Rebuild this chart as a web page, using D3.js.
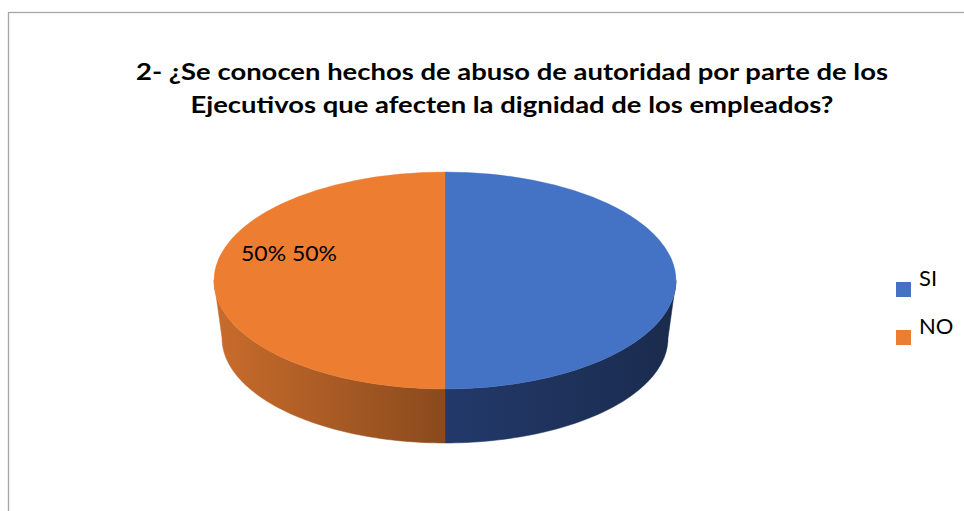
<!DOCTYPE html>
<html>
<head>
<meta charset="utf-8">
<script src="https://cdn.jsdelivr.net/npm/d3@7"></script>
<style>
  html, body { margin: 0; padding: 0; background: #fff; }
  svg { display: block; }
</style>
</head>
<body>
<svg id="chart" width="964" height="511"></svg>
<script>
const titleLines = [
  "2- ¿Se conocen hechos de abuso de autoridad por parte de los",
  "Ejecutivos que afecten la dignidad de los empleados?"
];
const categories = ["SI", "NO"];
const values = [50, 50];
const topColors = ["#4472C4", "#ED7D31"];
const sideColors = [["#22396A", "#1A2B4D"], ["#C96C2C", "#8A4A1D"]];

const svg = d3.select("#chart");
const font = "Lato, 'Open Sans', sans-serif";

// chart frame (runs off the right and bottom edges)
svg.append("rect")
  .attr("x", 8.5).attr("y", 12.5)
  .attr("width", 1000).attr("height", 600)
  .attr("fill", "none")
  .attr("stroke", "#a6a6a6")
  .attr("stroke-width", 1.3);

// title
const titleSpec = [
  { x: 512, y: 80, w: 752 },
  { x: 512, y: 113, w: 643 }
];
titleLines.forEach((line, i) => {
  svg.append("text")
    .attr("x", titleSpec[i].x)
    .attr("y", titleSpec[i].y)
    .attr("text-anchor", "middle")
    .attr("font-family", font)
    .attr("font-weight", "bold")
    .attr("font-size", 23.5)
    .attr("fill", "#000")
    .attr("textLength", titleSpec[i].w)
    .attr("lengthAdjust", "spacingAndGlyphs")
    .text(line);
});

// pie geometry: top face ellipse and the slightly smaller bottom rim
const topE = { cx: 445, cy: 280.5, rx: 231, ry: 108.5 };
const botE = { cx: 445, cy: 338, rx: 223, ry: 105 };

const pie = d3.pie().sort(null).value(d => d)(values);
const arc = d3.arc().innerRadius(0).outerRadius(1);

const defs = svg.append("defs");
sideColors.forEach((c, i) => {
  const g = defs.append("linearGradient")
    .attr("id", "side" + i)
    .attr("gradientUnits", "userSpaceOnUse")
    .attr("x1", i === 0 ? topE.cx : topE.cx - topE.rx)
    .attr("x2", i === 0 ? topE.cx + topE.rx : topE.cx)
    .attr("y1", 0).attr("y2", 0);
  g.append("stop").attr("offset", 0).attr("stop-color", c[0]);
  g.append("stop").attr("offset", 1).attr("stop-color", c[1]);
});

function pt(e, a) {
  return [e.cx + e.rx * Math.sin(a), e.cy - e.ry * Math.cos(a)];
}

// sides: only the front half (angles between PI/2 and 3PI/2) is visible
const sides = svg.append("g");
pie.forEach((d, i) => {
  const a0 = Math.max(d.startAngle, Math.PI / 2);
  const a1 = Math.min(d.endAngle, 3 * Math.PI / 2);
  if (a1 <= a0) return;
  const n = 60;
  const pts = [];
  for (let k = 0; k <= n; k++) pts.push(pt(topE, a0 + (a1 - a0) * k / n));
  for (let k = n; k >= 0; k--) pts.push(pt(botE, a0 + (a1 - a0) * k / n));
  sides.append("path")
    .attr("d", d3.line()(pts) + "Z")
    .attr("fill", "url(#side" + i + ")")
    .attr("stroke", "url(#side" + i + ")")
    .attr("stroke-width", 0.5);
});

// top face
const face = svg.append("g")
  .attr("transform", `translate(${topE.cx},${topE.cy}) scale(${topE.rx},${topE.ry})`);
face.selectAll("path")
  .data(pie)
  .join("path")
  .attr("d", arc)
  .attr("fill", (d, i) => topColors[i])
  .attr("stroke", (d, i) => topColors[i])
  .attr("stroke-width", 0.4)
  .attr("vector-effect", "non-scaling-stroke");

// data label
svg.append("text")
  .attr("x", 241).attr("y", 261)
  .attr("font-family", font)
  .attr("font-size", 22)
  .attr("fill", "#000")
  .attr("textLength", 96)
  .attr("lengthAdjust", "spacingAndGlyphs")
  .text(values.map(v => v + "%").join(" "));

// legend
const legend = svg.append("g");
categories.forEach((c, i) => {
  const y = 282 + i * 48;
  legend.append("rect")
    .attr("x", 896).attr("y", y)
    .attr("width", 15).attr("height", 15)
    .attr("fill", topColors[i]);
  legend.append("text")
    .attr("x", 919).attr("y", y + 4)
    .attr("font-family", font)
    .attr("font-size", 22)
    .attr("fill", "#000")
    .text(c);
});
</script>
</body>
</html>
